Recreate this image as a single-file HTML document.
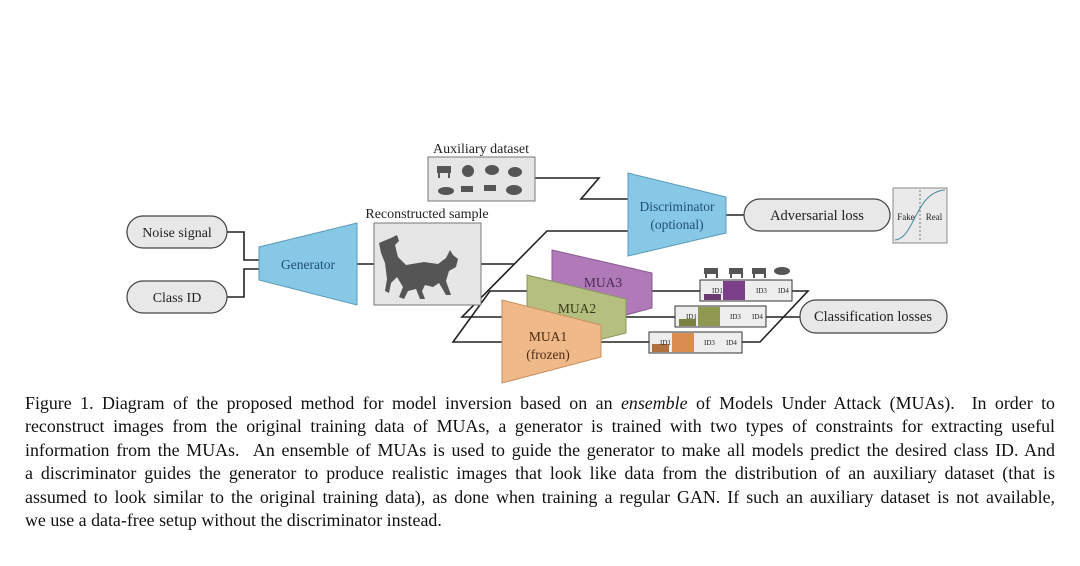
<!DOCTYPE html>
<html><head><meta charset="utf-8"><style>
html,body{margin:0;padding:0;background:#fff;width:1080px;height:566px;overflow:hidden}
svg{position:absolute;left:0;top:0}
svg text{font-family:"Liberation Serif",serif;fill:#222}
.cap{position:absolute;left:25px;top:392px;width:1030px;font-family:"Liberation Serif",serif;font-size:17.9px;line-height:23.4px;color:#111}
.cap div{text-align:justify;text-align-last:justify;white-space:nowrap;height:23.4px}
.cap div.l{text-align-last:left}
</style></head><body>
<svg width="1080" height="566" viewBox="0 0 1080 566">
<g stroke="#222" stroke-width="1.6" fill="none">
<polyline points="227,232 244,232 244,260 259,260"/>
<polyline points="227,297 244,297 244,269 259,269"/>
<line x1="357" y1="264" x2="374" y2="264"/>
<line x1="481" y1="264" x2="514" y2="264"/>
<polyline points="628,231 547,231 462,317 527,317"/>
<polyline points="527,291 490,291 453,342 502,342"/>
<polyline points="535,178 599,178 581,199 628,199"/>
<line x1="726" y1="215" x2="744" y2="215"/>
<line x1="652" y1="291" x2="700" y2="291"/>
<line x1="626" y1="317" x2="675" y2="317"/>
<line x1="601" y1="342" x2="649" y2="342"/>
<polyline points="792,291 808,291 760,342 742,342"/>
<line x1="766" y1="317" x2="800" y2="317"/>
</g>
<g stroke="#444" stroke-width="1.2" fill="#e8e8e8">
<rect x="127" y="216" width="100" height="32" rx="16"/>
<rect x="127" y="281" width="100" height="32" rx="16"/>
<rect x="744" y="199" width="146" height="32" rx="16"/>
<rect x="800" y="300" width="147" height="33" rx="16"/>
</g>
<text x="177" y="237" font-size="14" text-anchor="middle">Noise signal</text>
<text x="177" y="302" font-size="14" text-anchor="middle">Class ID</text>
<text x="817" y="220" font-size="14.5" text-anchor="middle">Adversarial loss</text>
<text x="873" y="321" font-size="14.5" text-anchor="middle">Classification losses</text>
<polygon points="259,247 357,223 357,305 259,280" fill="#86c8e6" stroke="#5a9ab8" stroke-width="1"/>
<text x="308" y="269" font-size="13.5" text-anchor="middle" style="fill:#1e4e7a">Generator</text>
<text x="427" y="218" font-size="14" text-anchor="middle">Reconstructed sample</text>
<rect x="374" y="223" width="107" height="82" fill="#e6e6e6" stroke="#777"/>
<path d="M391,238 l6,-3 2,6 -4,4 3,12 8,8 18,-3 14,2 8,-6 4,-8 3,5 5,4 -2,8 -7,4 -3,10 5,14 -5,0 -7,-12 -6,4 -8,-2 -3,6 3,8 -5,0 -4,-10 -8,2 -4,8 -5,-2 4,-10 -6,-10 -6,6 -2,10 -4,-2 2,-12 -2,-16 -4,-10 -2,-10z" fill="#555"/>
<text x="481" y="153" font-size="14" text-anchor="middle">Auxiliary dataset</text>
<rect x="428" y="157" width="107" height="44" fill="#e6e6e6" stroke="#777"/>
<g fill="#555">
<rect x="437" y="166" width="14" height="7"/><rect x="438" y="172" width="2" height="6"/><rect x="448" y="172" width="2" height="6"/>
<ellipse cx="468" cy="171" rx="6" ry="6"/><ellipse cx="492" cy="170" rx="7" ry="5"/><ellipse cx="515" cy="172" rx="7" ry="5"/>
<ellipse cx="446" cy="191" rx="8" ry="4"/><rect x="461" y="186" width="12" height="6"/><rect x="484" y="185" width="12" height="6"/><ellipse cx="514" cy="190" rx="8" ry="5"/>
</g>
<polygon points="628,173 726,197 726,233 628,256" fill="#86c8e6" stroke="#5a9ab8" stroke-width="1"/>
<text x="677" y="211" font-size="13.5" text-anchor="middle" style="fill:#1e4e7a">Discriminator</text>
<text x="677" y="229" font-size="13.5" text-anchor="middle" style="fill:#1e4e7a">(optional)</text>
<rect x="893" y="188" width="54" height="55" fill="#eaeaea" stroke="#888"/>
<line x1="920" y1="190" x2="920" y2="241" stroke="#777" stroke-dasharray="2,2"/>
<path d="M895,240 C915,238 915,192 945,190" stroke="#4a8a9a" fill="none"/>
<text x="906" y="220" font-size="9" text-anchor="middle">Fake</text>
<text x="934" y="220" font-size="9" text-anchor="middle">Real</text>
<polygon points="552,250 652,273 652,308 552,335" fill="#b07ab8" stroke="#8a5a92" stroke-width="1"/>
<text x="603" y="287" font-size="13.5" text-anchor="middle" style="fill:#4a2a55">MUA3</text>
<polygon points="527,275 626,299 626,333 527,358" fill="#b4bf80" stroke="#8a9560" stroke-width="1"/>
<text x="577" y="313" font-size="13.5" text-anchor="middle" style="fill:#3a3a1a">MUA2</text>
<polygon points="502,300 601,325 601,357 502,383" fill="#f0b98a" stroke="#c89060" stroke-width="1"/>
<text x="548" y="341" font-size="13.5" text-anchor="middle" style="fill:#4a2a10">MUA1</text>
<text x="548" y="359" font-size="13.5" text-anchor="middle" style="fill:#4a2a10">(frozen)</text>
<g stroke="#333" stroke-width="1">
<rect x="700" y="280" width="92" height="21" fill="#eee"/>
<rect x="675" y="306" width="91" height="21" fill="#eee"/>
<rect x="649" y="332" width="93" height="21" fill="#eee"/>
</g>
<rect x="723" y="281" width="22" height="19" fill="#7a3f88"/>
<rect x="704" y="294" width="17" height="6" fill="#6a3a70"/>
<rect x="698" y="307" width="22" height="19" fill="#8f9a50"/>
<rect x="679" y="319" width="17" height="7" fill="#7a8040"/>
<rect x="672" y="333" width="22" height="19" fill="#d98e50"/>
<rect x="652" y="344" width="17" height="8" fill="#b07040"/>
<g font-size="7" fill="#333">
<text x="712" y="293">ID1</text><text x="756" y="293">ID3</text><text x="778" y="293">ID4</text>
<text x="686" y="319">ID1</text><text x="730" y="319">ID3</text><text x="752" y="319">ID4</text>
<text x="660" y="345">ID1</text><text x="704" y="345">ID3</text><text x="726" y="345">ID4</text>
</g>
<g fill="#555">
<rect x="704" y="268" width="14" height="6"/><rect x="729" y="268" width="14" height="6"/><rect x="752" y="268" width="14" height="6"/><ellipse cx="782" cy="271" rx="8" ry="4"/>
<rect x="705" y="273" width="2" height="5"/><rect x="716" y="273" width="2" height="5"/><rect x="730" y="273" width="2" height="5"/><rect x="741" y="273" width="2" height="5"/><rect x="753" y="273" width="2" height="5"/><rect x="764" y="273" width="2" height="5"/>
</g>
</svg>
<div class="cap">
<div>Figure 1. Diagram of the proposed method for model inversion based on an <i>ensemble</i> of Models Under Attack (MUAs). &nbsp;In order to</div>
<div>reconstruct images from the original training data of MUAs, a generator is trained with two types of constraints for extracting useful</div>
<div>information from the MUAs. &nbsp;An ensemble of MUAs is used to guide the generator to make all models predict the desired class ID. And</div>
<div>a discriminator guides the generator to produce realistic images that look like data from the distribution of an auxiliary dataset (that is</div>
<div>assumed to look similar to the original training data), as done when training a regular GAN. If such an auxiliary dataset is not available,</div>
<div class="l">we use a data-free setup without the discriminator instead.</div>
</div>
</body></html>
